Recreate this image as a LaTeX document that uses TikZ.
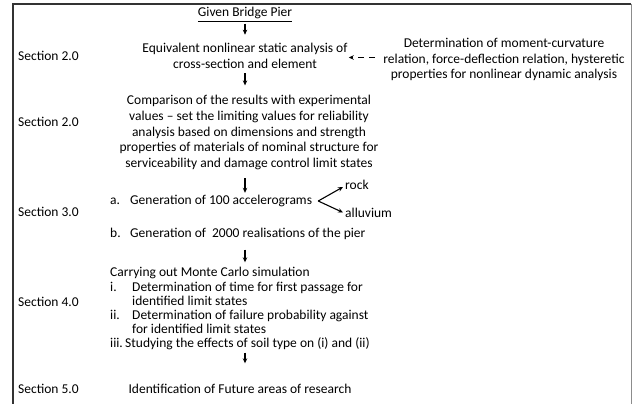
\documentclass[tikz,border=0pt]{standalone}
\usepackage{fontspec}
\setmainfont{Carlito}
\usetikzlibrary{arrows.meta}
\begin{document}
\begin{tikzpicture}[x=1pt,y=-1pt,
  every node/.style={font=\fontsize{13.5}{15.8}\selectfont, inner sep=0pt, text=black},
  flow/.style={-{Stealth[length=5pt,width=4.5pt]}, line width=1.1pt},
  dashflow/.style={-{Stealth[length=5pt,width=4.5pt]}, line width=1.1pt, dash pattern=on 6pt off 5pt},
  one/.style={text height=10pt, text depth=3pt},
  sec/.style={one, anchor=west},
  lbl/.style={one, anchor=west},
  blk/.style={align=center}]
\useasboundingbox (0,0) rectangle (632,404);
\draw[line width=1.5pt, black!80] (13,404) -- (13,4) -- (631,4);
\draw[line width=1pt, black!45] (631,4) -- (631,404);

\coordinate (ax) at (245,0);

% section labels
\node[sec] (s1) at (18,57) {Section 2.0};
\node[sec] (s2) at (18,123) {Section 2.0};
\node[sec] (s3) at (18,213) {Section 3.0};
\node[sec] (s4) at (18,303) {Section 4.0};
\node[sec] (s5) at (18,390) {Section 5.0};

% main flow
\node[one] (pier) at (245,13.5) {\underline{Given Bridge Pier}};
\node[blk] (equiv) at (245,56) {Equivalent nonlinear static analysis of\\cross-section and element};
\node[blk] (moment) at (504,59.5) {Determination of moment-curvature\\relation, force-deflection relation, hysteretic\\properties for nonlinear dynamic analysis};
\node[blk] (comp) at (249,132.5) {Comparison of the results with experimental\\values -- set the limiting values for reliability\\analysis based on dimensions and strength\\properties of materials of nominal structure for\\serviceability and damage control limit states};

\node[lbl] (ga) at (110,201) {a.};
\node[lbl] (gena) at (130,201) {Generation of 100 accelerograms};
\node[lbl] (rock) at (345,186) {rock};
\node[lbl] (allu) at (345,213.5) {alluvium};
\node[lbl] (gb) at (110,234) {b.};
\node[lbl] (genb) at (130,234) {Generation of\ \ 2000 realisations of the pier};

\node[lbl] (mc) at (110,273) {Carrying out Monte Carlo simulation};
\node[lbl] (mi) at (110,288) {i.};
\node[lbl] (mit) at (132,288) {Determination of time for first passage for};
\node[lbl] (mit2) at (132,302) {identified limit states};
\node[lbl] (mii) at (110,316) {ii.};
\node[lbl] (miit) at (132,316) {Determination of failure probability against};
\node[lbl] (miit2) at (132,330) {for identified limit states};
\node[lbl] (miii) at (110,344) {iii.};
\node[lbl] (miiit) at (125,344) {Studying the effects of soil type on (i) and (ii)};

\node[one] (fut) at (240,390) {Identification of Future areas of research};

% connectors
\draw[flow, shorten <=3.5pt, shorten >=8.5pt] (pier.south -| ax) -- (equiv.north -| ax);
\draw[dashflow, shorten <=8pt, shorten >=1pt] (moment.west |- 0,57.5) -- (equiv.east |- 0,57.5);
\draw[flow, shorten <=4.5pt, shorten >=9.5pt] (equiv.south -| ax) -- (comp.north -| ax);
\draw[flow, shorten <=8pt, shorten >=1.5pt] (comp.south -| ax) -- (gena.north -| ax);
\draw[flow] ([xshift=6pt]gena.east) -- ([xshift=-2pt,yshift=-1pt]rock.west);
\draw[flow] ([xshift=6pt]gena.east) -- ([xshift=-2pt,yshift=1pt]allu.west);
\draw[flow, shorten <=9pt, shorten >=4pt] (genb.south -| ax) -- (mc.north -| ax);
\draw[flow, shorten <=2pt, shorten >=20pt] (miiit.south -| ax) -- (fut.north -| ax);
\end{tikzpicture}
\end{document}
